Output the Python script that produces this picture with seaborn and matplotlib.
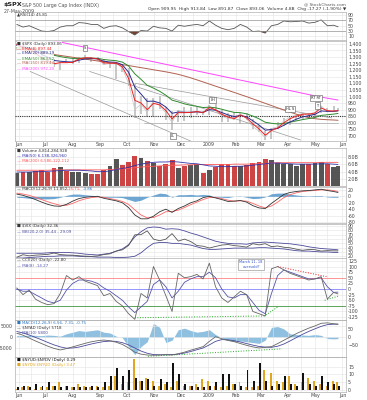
import numpy as np
import pandas as pd
import matplotlib
matplotlib.use("Agg")
import matplotlib.pyplot as plt
import matplotlib.transforms as mtransforms
import seaborn as sns

sns.set_theme(style="white")
plt.rcParams['font.family'] = ['DejaVu Sans']
plt.rcParams['text.parse_math'] = False  # ticker symbols use "$"

# --- data (weekly readings, 30 May 2008 -> 27 May 2009) ---
dates = pd.to_datetime(pd.date_range('2008-05-30', periods=52, freq='7D').tolist() + ['2009-05-27'])

close = [1400, 1360, 1360, 1318, 1278, 1262, 1239, 1260, 1257, 1260, 1296, 1298, 1292, 1283, 1242, 1252, 1255, 1213,
         1099, 899, 940, 877, 968, 930, 873, 800, 896, 876, 879, 887, 872, 931, 890, 850, 832, 826, 869, 827, 770, 735,
         683, 756, 768, 815, 843, 857, 870, 866, 877, 929, 882, 887, 893]
high = [1406, 1405, 1370, 1371, 1335, 1290, 1285, 1265, 1286, 1285, 1300, 1313, 1300, 1300, 1285, 1255, 1265, 1241,
        1215, 1098, 1006, 985, 985, 1005, 917, 885, 897, 918, 918, 918, 890, 935, 944, 895, 872, 878, 870, 875, 825, 780,
        740, 758, 804, 832, 845, 857, 875, 875, 878, 930, 909, 924, 913]
low = [1385, 1358, 1330, 1315, 1272, 1257, 1225, 1200, 1251, 1248, 1253, 1285, 1263, 1268, 1236, 1217, 1133, 1188,
       1080, 839, 866, 845, 845, 904, 818, 741, 805, 815, 837, 856, 857, 860, 888, 804, 805, 820, 786, 822, 754, 729,
       666, 672, 755, 771, 779, 814, 826, 826, 845, 875, 878, 879, 891]
ema8 = [1395, 1371, 1363, 1331, 1294, 1272, 1249, 1257, 1257, 1259, 1285, 1294, 1293, 1286, 1255, 1253, 1254, 1225,
        1137, 970, 949, 899, 947, 935, 892, 828, 876, 876, 878, 884, 876, 915, 898, 864, 842, 831, 858, 836, 790, 752,
        704, 740, 760, 799, 830, 849, 864, 865, 873, 912, 891, 888, 892]
ema20 = [1390, 1378, 1371, 1350, 1321, 1297, 1274, 1268, 1264, 1262, 1276, 1285, 1288, 1286, 1268, 1262, 1259, 1241,
         1184, 1070, 1018, 962, 964, 950, 919, 871, 881, 879, 879, 882, 878, 899, 895, 877, 859, 846, 855, 844, 814, 782,
         742, 748, 756, 780, 805, 826, 844, 853, 863, 889, 886, 886, 889]
ema50 = [1370, 1368, 1367, 1358, 1344, 1329, 1313, 1303, 1295, 1289, 1290, 1291, 1291, 1290, 1281, 1276, 1272, 1261,
         1232, 1172, 1130, 1084, 1063, 1039, 1009, 971, 958, 943, 932, 924, 915, 918, 913, 902, 889, 878, 876, 867, 850,
         829, 803, 795, 790, 794, 803, 813, 823, 831, 839, 855, 860, 865, 870]
ma150 = [1360, 1354, 1347, 1340, 1333, 1326, 1319, 1312, 1305, 1298, 1291, 1284, 1277, 1270, 1263, 1256, 1249, 1242,
         1235, 1227, 1219, 1211, 1203, 1195, 1187, 1178, 1168, 1155, 1141, 1126, 1110, 1094, 1078, 1062, 1046, 1030,
         1014, 998, 981, 964, 947, 930, 913, 896, 880, 864, 850, 838, 830, 825, 822, 820, 818]
ma200 = [1480, 1470, 1460, 1450, 1441, 1432, 1423, 1414, 1404, 1394, 1384, 1374, 1364, 1354, 1344, 1334, 1324, 1314,
         1304, 1294, 1284, 1274, 1264, 1254, 1244, 1234, 1224, 1214, 1204, 1194, 1184, 1174, 1164, 1154, 1144, 1134,
         1124, 1114, 1104, 1094, 1084, 1074, 1064, 1054, 1044, 1034, 1024, 1014, 1004, 995, 986, 978, 972]
rsi = [55, 45, 50, 40, 30, 28, 32, 45, 50, 50, 62, 60, 55, 55, 40, 48, 50, 42, 28, 15, 32, 30, 48, 42, 40, 30, 52, 48,
       52, 55, 50, 68, 52, 40, 35, 40, 55, 45, 28, 30, 22, 50, 55, 68, 65, 66, 68, 60, 63, 72, 50, 52, 46]
volume = [3.6, 4.0, 3.8, 4.2, 4.5, 4.0, 5.0, 5.2, 4.3, 4.0, 4.0, 3.6, 3.3, 3.3, 4.5, 5.5, 7.5, 5.8, 6.8, 8.5, 7.8,
          7.0, 6.5, 5.5, 6.0, 7.2, 5.0, 5.5, 5.8, 6.0, 3.5, 4.5, 5.3, 6.0, 6.0, 5.6, 5.5, 5.8, 6.5, 6.8, 7.5, 7.2, 6.5,
          6.0, 6.2, 5.6, 6.0, 6.2, 6.4, 6.8, 6.0, 5.2, 5.6]
vol_ma_blue = [3.9, 3.9, 3.9, 4.0, 4.0, 4.1, 4.2, 4.3, 4.4, 4.4, 4.4, 4.3, 4.2, 4.0, 4.0, 4.2, 4.6, 4.9, 5.2, 5.7,
               6.1, 6.4, 6.6, 6.7, 6.7, 6.8, 6.7, 6.5, 6.3, 6.2, 5.9, 5.6, 5.5, 5.4, 5.4, 5.5, 5.5, 5.6, 5.8, 6.0,
               6.2, 6.4, 6.4, 6.3, 6.2, 6.1, 6.1, 6.1, 6.1, 6.2, 6.2, 6.1, 6.0]
vol_ma_red = [4.4, 4.4, 4.4, 4.4, 4.4, 4.4, 4.5, 4.5, 4.5, 4.5, 4.5, 4.5, 4.5, 4.5, 4.5, 4.6, 4.7, 4.8, 4.9, 5.1,
              5.3, 5.4, 5.5, 5.6, 5.7, 5.8, 5.8, 5.9, 5.9, 6.0, 6.0, 6.0, 6.0, 6.0, 6.0, 6.1, 6.1, 6.1, 6.2, 6.2,
              6.3, 6.4, 6.5, 6.5, 6.5, 6.5, 6.5, 6.5, 6.5, 6.6, 6.6, 6.6, 6.6]
macd = [7, 3, -3, -10, -18, -25, -30, -31, -25, -15, -7, -3, -1, 0, -6, -10, -14, -20, -35, -58, -70, -70, -62, -48,
        -40, -50, -38, -30, -20, -14, -4, 0, -5, -10, -16, -15, -13, -18, -29, -36, -38, -22, -8, 6, 12, 15, 17, 18, 20,
        22, 18, 15, 12]
macd_sig = [10, 7, 3, -3, -10, -17, -23, -28, -28, -22, -14, -8, -4, -2, -3, -7, -11, -16, -25, -42, -58, -67, -66,
            -58, -48, -47, -43, -35, -26, -18, -10, -4, -3, -7, -12, -15, -14, -15, -22, -30, -36, -30, -18, -4, 5, 11,
            15, 17, 18, 20, 20, 18, 15]
vix = [17.8, 23.6, 21.0, 22.6, 23.4, 24.4, 27.5, 24.0, 22.9, 22.6, 21.2, 20.3, 19.8, 20.7, 24.0, 25.7, 32.0, 35.0,
       45.1, 69.9, 70.3, 79.1, 59.9, 56.1, 59.8, 72.7, 55.3, 59.9, 54.3, 44.9, 43.4, 39.2, 42.8, 46.1, 47.3, 44.8, 43.4,
       41.3, 49.3, 46.4, 49.3, 42.4, 43.9, 41.0, 39.7, 36.5, 33.9, 35.8, 35.3, 32.1, 33.1, 32.6, 32.4]
bb_upper = [27, 27, 27, 27, 27, 28, 29, 29, 29, 28, 27, 25, 24, 23, 25, 27, 32, 37, 47, 65, 77, 86, 88, 87, 83, 84,
            83, 79, 74, 70, 65, 60, 55, 52, 50, 49, 49, 48, 51, 52, 53, 52, 51, 50, 49, 47, 45, 42, 40, 38, 37, 36, 35]
bb_lower = [16, 16, 17, 18, 19, 20, 20, 21, 21, 21, 20, 19, 19, 18, 18, 18, 17, 17, 18, 20, 28, 40, 50, 52, 52, 50,
            50, 48, 46, 42, 38, 36, 36, 37, 38, 39, 39, 39, 39, 40, 40, 39, 38, 37, 35, 33, 32, 32, 31, 30, 30, 29, 29]
cci = [5, -25, -5, -45, -60, -70, -65, -20, 60, 40, 55, 35, 25, 15, -30, -20, -55, -75, -110, -135, -20, -40, 100, 40,
       -30, -100, 70, 50, 55, 65, 45, 115, 10, -40, -60, -35, -10, -25, -100, -110, -120, 90, 100, 85, 70, 60, 50, 40,
       45, 55, -45, -15, -22]
cci_ma = [0, -10, -10, -25, -40, -55, -62, -50, -5, 25, 40, 40, 35, 25, 5, -10, -30, -50, -80, -105, -80, -55, 20, 40,
          10, -40, -10, 30, 45, 55, 55, 75, 50, 0, -35, -40, -25, -25, -60, -95, -110, -20, 60, 85, 75, 65, 55, 45, 45,
          50, 10, -15, -14]
osc_line = [1700, 800, -500, -1800, -3000, -4200, -5200, -5900, -5300, -4500, -3700, -2900, -2200, -1700, -1400, -1700,
            -2400, -3400, -5000, -6900, -7800, -8200, -8300, -8200, -8000, -8200, -7600, -6900, -6000, -5200, -4400,
            -2000, 100, -800, -1600, -2100, -3000, -3800, -4500, -5000, -4700, -4400, -3000, -1500, 0, 1500, 2800,
            4000, 5000, 6200, 6400, 6000, 5800]
osc_signal = [2500, 1800, 900, -200, -1300, -2500, -3600, -4500, -5100, -5000, -4600, -3900, -3200, -2600, -2100,
              -1900, -2000, -2600, -3600, -5000, -6400, -7400, -8000, -8100, -8100, -8000, -7800, -7300, -6600, -5800,
              -5000, -3600, -2000, -1200, -1300, -1700, -2300, -3000, -3700, -4300, -4600, -4700, -4200, -3200, -1800,
              -300, 1200, 2500, 3700, 4800, 5600, 5800, 5800]
osc_hist = [10, 8, 12, 10, 8, 12, 10, 5, 20, 30, 40, 35, 40, 45, 30, 25, 5, -5, -60, -110, -60, -30, 85, 60, -35, -20,
            45, 55, 40, 30, 35, 45, 15, -5, -20, -30, -25, -30, -35, -40, -20, 60, 65, 50, 20, 15, 12, 10, 15, 10, -10,
            -12, -10]
ratio_black = [2, 3, 2, 4, 3, 5, 3, 2, 3, 2, 2, 2, 3, 2, 5, 9, 14, 9, 13, 8, 6, 7, 3, 7, 5, 17, 10, 4, 3, 2, 2, 3, 5,
               10, 10, 4, 3, 13, 6, 17, 6, 3, 4, 9, 4, 3, 11, 4, 3, 9, 5, 4, 3]
ratio_gold = [1, 2, 3, 1, 2, 2, 3, 5, 3, 2, 4, 3, 2, 3, 2, 3, 9, 4, 5, 20, 6, 8, 6, 3, 4, 2, 6, 3, 3, 4, 7, 6, 3, 2, 3,
              4, 5, 2, 2, 3, 13, 11, 6, 5, 9, 4, 5, 8, 6, 4, 3, 6, 5]

month_ticks = pd.to_datetime(['2008-06-01', '2008-07-01', '2008-08-01', '2008-09-01', '2008-10-01', '2008-11-01',
                              '2008-12-01', '2009-01-01', '2009-02-01', '2009-03-01', '2009-04-01', '2009-05-01',
                              '2009-06-01'])
month_labels = ['Jun', 'Jul', 'Aug', 'Sep', 'Oct', 'Nov', 'Dec', '2009', 'Feb', 'Mar', 'Apr', 'May', 'Jun']

W, H = 367, 400
XMIN, XMAX = pd.Timestamp('2008-05-28'), pd.Timestamp('2009-06-05')
FS = 3.4
grid_x = pd.date_range('2008-06-01', '2009-06-01', freq='SMS')

fig = plt.figure(figsize=(W / 100, H / 100), dpi=100)
fig.patch.set_facecolor('white')


def panel(top, bot, yticks, ylim, labels=None, show_dates=False):
    ax = fig.add_axes([15 / W, 1 - bot / H, 331 / W, (bot - top) / H])
    ax.set_xlim(XMIN, XMAX)
    ax.set_ylim(*ylim)
    ax.set_yticks(yticks)
    ax.set_yticklabels(labels if labels else [str(t) for t in yticks])
    ax.yaxis.tick_right()
    ax.set_xticks(month_ticks)
    ax.set_xticklabels(month_labels if show_dates else [])
    ax.tick_params(labelsize=FS, length=0, pad=1.5, colors='#444444')
    ax.tick_params(axis='x', pad=0.8)
    for t in grid_x:
        ax.axvline(t, color='#e4e4e4', lw=0.4, zorder=0)
    for y in yticks:
        ax.axhline(y, color='#e4e4e4', lw=0.4, zorder=0)
    for s in ax.spines.values():
        s.set_color('#b0b0b0')
        s.set_linewidth(0.5)
    return ax


def legend(ax, lines, box=False, step=5.2):
    # one legend row every few px, from the panel's top-left corner
    for i, (txt, col) in enumerate(lines):
        tr = ax.transAxes + mtransforms.ScaledTranslation(2 / 100, -(0.5 + step * i) / 100, fig.dpi_scale_trans)
        kw = dict(bbox=dict(fc='white', ec='none', pad=0.1, alpha=0.8)) if box else {}
        ax.text(0, 1, txt, transform=tr, fontsize=FS - 0.5, color=col, va='top', ha='left', zorder=10, **kw)


# header
fig.text(4 / W, 1 - 2 / H, '$SPX', fontsize=4.6, fontweight='bold', va='top', color='#222222')
fig.text(22 / W, 1 - 2.5 / H, 'S&P 500 Large Cap Index (INDX)', fontsize=FS, va='top', color='#555555')
fig.text(4 / W, 1 - 8.5 / H, '27-May-2009', fontsize=FS, va='top', color='#555555')
fig.text(346 / W, 1 - 2 / H, '@ StockCharts.com', fontsize=FS - 0.3, va='top', ha='right', color='#555555')
fig.text(346 / W, 1 - 7 / H, 'Open 909.95  High 913.84  Low 891.87  Close 893.06  Volume 4.8B  Chg -17.27 (-1.90%) \u25bc',
         fontsize=FS - 0.2, va='top', ha='right', color='#333333')

# RSI
ax = panel(12, 40, [10, 30, 50, 70, 90], (-4, 102))
sns.lineplot(x=dates, y=rsi, ax=ax, color='#555555', lw=0.6)
ax.axhline(70, color='#999999', lw=0.5)
ax.axhline(30, color='#999999', lw=0.5)
r = np.array(rsi)
ax.fill_between(dates, r, 30, where=r < 30, interpolate=True, color='#7a3f2a', lw=0)
ax.fill_between(dates, r, 70, where=r > 70, interpolate=True, color='#3d8a3d', lw=0)
legend(ax, [('\u25b2RSI(14) 45.81', '#333333')])

# price
ax = panel(41, 141, list(range(700, 1401, 50)), (660, 1422),
           labels=[f'{v:,}' for v in range(700, 1401, 50)], show_dates=True)
ax.vlines(dates, low, high, color='#b8b8b8', lw=1.1, zorder=2)
sns.lineplot(x=dates, y=close, ax=ax, color='#c8c8c8', lw=0.5, zorder=2)
for vals, col in [(ma200, '#ff44ff'), (ma150, '#b06050'), (ema50, '#2e8b2e'), (ema20, '#2b2b8f'), (ema8, '#ee2222')]:
    sns.lineplot(x=dates, y=vals, ax=ax, color=col, lw=0.7, zorder=4)
ax.axhline(848, color='#333333', lw=0.8, ls=(0, (1, 1)), zorder=3)
ax.plot(pd.to_datetime(['2008-10-20', '2009-05-27']), [800, 800], color='#aaaaaa', lw=0.5, zorder=3)
ax.plot(pd.to_datetime(['2008-06-14', '2009-02-14']), [1190, 472], color='#999999', lw=0.5, zorder=3)
ax.plot(pd.to_datetime(['2008-08-20', '2009-04-15']), [1190, 667], color='#999999', lw=0.5, zorder=3)
ax.plot(pd.to_datetime(['2008-10-10', '2009-05-20']), [1100, 836], color='#999999', lw=0.5, zorder=3)
for d, y, t in [('2008-08-15', 1370, 'S'), ('2008-11-22', 700, 'LL'), ('2009-01-06', 975, 'LH'),
                ('2009-04-03', 905, 'HL S'), ('2009-05-02', 985, 'RT RT'), ('2009-05-04', 930, 'T')]:
    ax.text(pd.Timestamp(d), y, t, fontsize=2.6, ha='center', va='center', zorder=8,
            bbox=dict(boxstyle='square,pad=0.3', fc='white', ec='#555555', lw=0.4))
legend(ax, [('\u25a0 $SPX (Daily) 893.06', '#333333'), ('\u2014 EMA(8) 897.44', '#ee2222'),
            ('\u2014 EMA(20) 889.19', '#2b2b8f'), ('\u2014 EMA(50) 863.52', '#2e8b2e'),
            ('\u2014 MA(150) 819.44', '#b06050'), ('\u2014 MA(200) 972.20', '#ff44ff')], box=True, step=5.0)

# volume
ax = panel(148, 186, [2, 4, 6, 8], (0, 10.6), labels=['2.0B', '4.0B', '6.0B', '8.0B'])
up = np.diff([close[0]] + close) >= 0
ax.bar(dates, volume, width=5.5, color=np.where(up, '#555555', '#cc4444'), edgecolor='none', zorder=2)
sns.lineplot(x=dates, y=vol_ma_red, ax=ax, color='#ff5555', lw=0.6, zorder=3)
sns.lineplot(x=dates, y=vol_ma_blue, ax=ax, color='#3333aa', lw=0.6, zorder=3)
legend(ax, [('\u25a0 Volume 4,814,284,928', '#333333'), ('\u2014 MA(50) 6,138,326,960', '#3333aa'),
            ('\u2014 MA(200) 6,586,122,112', '#ff5555')])

# MACD
ax = panel(187, 223, [-80, -60, -40, -20, 0, 20], (-83, 29))
m = np.array(macd) - np.array(macd_sig)
ax.fill_between(dates, m, 0, color='#4a90c8', alpha=0.8, lw=0, zorder=2)
sns.lineplot(x=dates, y=macd_sig, ax=ax, color='#ff6666', lw=0.6, zorder=3)
sns.lineplot(x=dates, y=macd, ax=ax, color='#333333', lw=0.6, zorder=4)
ax.text(0.005, 0.99, '\u2014 MACD(12,26,9) 11.852, ', transform=ax.transAxes, fontsize=FS - 0.5, color='#333333', va='top')
ax.text(0.16, 0.99, '15.71, ', transform=ax.transAxes, fontsize=FS - 0.5, color='#ff4444', va='top')
ax.text(0.205, 0.99, '-3.86', transform=ax.transAxes, fontsize=FS - 0.5, color='#3377bb', va='top')

# VIX with bands
ax = panel(224, 258, [20, 30, 40, 50, 60, 70, 80, 90], (16, 95))
sns.lineplot(x=dates, y=bb_upper, ax=ax, color='#4a4a9a', lw=0.6, zorder=3)
sns.lineplot(x=dates, y=bb_lower, ax=ax, color='#4a4a9a', lw=0.6, zorder=3)
sns.lineplot(x=dates, y=vix, ax=ax, color='#555555', lw=0.6, zorder=4)
legend(ax, [('\u25a0 $VIX (Daily) 32.36', '#333333'), ('\u2014 BB(20,2.0) 35.44 - 29.09', '#4a4a9a')])

# CCI
ax = panel(258, 320, [-125, -100, -75, -50, -25, 0, 25, 50, 75, 100, 125], (-138, 138))
ax.axhline(50, color='#ff8888', lw=0.6, zorder=1)
ax.axhline(0, color='#8888ff', lw=0.6, zorder=1)
ax.axhline(-75, color='#449944', lw=0.6, zorder=1)
sns.lineplot(x=dates, y=cci_ma, ax=ax, color='#5555aa', lw=0.6, zorder=3)
sns.lineplot(x=dates, y=cci, ax=ax, color='#666666', lw=0.6, zorder=4)
ax.plot(pd.to_datetime(['2008-10-10', '2009-03-05', '2009-03-20']), [-128, -120, -80], color='#22aa22', lw=0.7, ls=':')
ax.plot(pd.to_datetime(['2009-03-20', '2009-05-14']), [100, 55], color='#ee2222', lw=0.7, ls=':')
ax.plot(pd.to_datetime(['2009-05-12', '2009-05-27']), [-50, -32], color='#22aa22', lw=0.7, ls=':')
ax.text(pd.Timestamp('2009-02-18'), 110, 'March 11, 18\noversold?', fontsize=2.6, color='#3355cc', ha='center',
        va='center', bbox=dict(boxstyle='square,pad=0.4', fc='white', ec='#888888', lw=0.4), zorder=8)
legend(ax, [('\u2014 CCI(20) (Daily) -22.80', '#333333'), ('\u2014 MA(8) -14.27', '#5555aa')])

# oscillator panel
ax = panel(320, 357, [-5000, 0, 5000], (-9100, 7700), labels=['-5000', '0', '5000'])
ax.yaxis.tick_left()
ax2 = ax.twinx()
ax2.set_ylim(-125, 106)
ax2.set_yticks([-50, 0, 50])
ax2.tick_params(labelsize=FS, length=0, pad=1.5, colors='#444444')
for s in ax2.spines.values():
    s.set_visible(False)
ax2.fill_between(dates, osc_hist, 0, color='#8fc0e0', lw=0, zorder=1)
sns.lineplot(x=dates, y=osc_signal, ax=ax, color='#4a4a9a', lw=0.6, zorder=3)
sns.lineplot(x=dates, y=osc_line, ax=ax, color='#666666', lw=0.6, zorder=4)
ax.set_zorder(ax2.get_zorder() + 1)
ax.patch.set_visible(False)
ax.plot(pd.to_datetime(['2008-10-25', '2009-03-25']), [-8800, -5400], color='#22aa22', lw=0.7, ls=':')
legend(ax, [('\u25a0 MACD(12,26,9) 6.56, 7.31, -0.75', '#3377bb'), ('\u2014 $NYAD (Daily) 5718', '#333333'),
            ('\u2014 MA(10) 5800', '#4a4a9a')])

# up/down volume ratios
ax = panel(357, 392, [0, 5, 10, 15], (-1, 21), show_dates=True)
ax.bar(dates - pd.Timedelta(days=1), ratio_gold, width=2.2, color='#e0a820', edgecolor='none', zorder=2)
ax.bar(dates + pd.Timedelta(days=1), ratio_black, width=2.2, color='#111111', edgecolor='none', zorder=3)
legend(ax, [('\u25a0 $NYUD:$NYDV (Daily) 0.29', '#111111'), ('\u25a0 $NYDV:$NYUD (Daily) 3.47', '#e0a820')])

# seaborn puts axis names on; clear them
for a in fig.axes:
    a.set_xlabel('')
    a.set_ylabel('')

fig.savefig('out.png', dpi=100, facecolor='white')
